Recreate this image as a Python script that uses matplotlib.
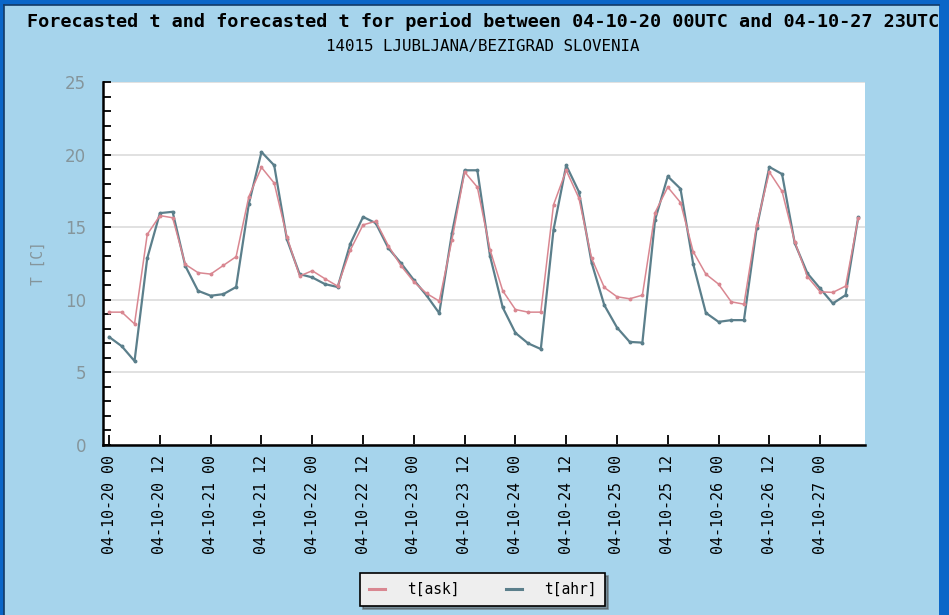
import numpy as np
import pandas as pd
import matplotlib
matplotlib.use("Agg")
import matplotlib.pyplot as plt
import matplotlib.dates as mdates
from matplotlib.patches import Rectangle
from matplotlib.ticker import MultipleLocator

# ----------------------------------------
# forecast series, 3-hourly from 04-10-20 00UTC
# ----------------------------------------
times = pd.date_range("2004-10-20 00:00", periods=60, freq="3h")

t_ask = [9.15, 9.15, 8.34, 14.5, 15.8, 15.65, 12.44, 11.87, 11.77, 12.37,
         12.97, 17.1, 19.12, 18.04, 14.35, 11.64, 12.0, 11.45, 10.94, 13.43,
         15.16, 15.41, 13.71, 12.33, 11.24, 10.44, 9.91, 14.12, 18.8, 17.76,
         13.45, 10.62, 9.33, 9.15, 9.15, 16.54, 18.92, 17.0, 12.86, 10.85,
         10.21, 10.07, 10.32, 16.01, 17.76, 16.7, 13.32, 11.77, 11.08, 9.86,
         9.7, 15.16, 18.8, 17.47, 14.0, 11.59, 10.55, 10.51, 10.94, 15.62]

t_ahr = [7.44, 6.8, 5.78, 12.86, 15.97, 16.06, 12.33, 10.62, 10.28, 10.39,
         10.88, 16.6, 20.18, 19.26, 14.17, 11.77, 11.54, 11.08, 10.88, 13.87,
         15.71, 15.28, 13.55, 12.51, 11.36, 10.3, 9.08, 14.59, 18.92, 18.92,
         13.02, 9.47, 7.72, 7.0, 6.61, 14.82, 19.26, 17.44, 12.56, 9.63,
         8.09, 7.1, 7.05, 15.51, 18.5, 17.65, 12.47, 9.1, 8.48, 8.6,
         8.6, 14.93, 19.15, 18.66, 13.9, 11.82, 10.78, 9.75, 10.32, 15.69]

series_names = ["t[ask]", "t[ahr]"]
series_colors = ["#d98791", "#5b7f8b"]

title = "Forecasted t and forecasted t for period between 04-10-20 00UTC and 04-10-27 23UTC"
subtitle = "14015 LJUBLJANA/BEZIGRAD SLOVENIA"

# ----------------------------------------
# figure
# ----------------------------------------
bg = "#a6d4ec"
fig = plt.figure(figsize=(9.49, 6.15), dpi=100)
fig.patch.set_facecolor(bg)

# dark blue frame round the page
frame = "#0a66c8"
for x0, y0, w, h in [(0, 1 - 5 / 615, 1, 5 / 615),
                     (0, 0, 4 / 949, 1),
                     (1 - 10 / 949, 0, 10 / 949, 1)]:
    fig.patches.append(Rectangle((x0, y0), w, h, transform=fig.transFigure,
                                 facecolor=frame, edgecolor="none", zorder=0))
fig.add_artist(plt.Line2D([4 / 949, 1 - 10 / 949], [1 - 5 / 615, 1 - 5 / 615],
                          color="#123a66", lw=1.2, transform=fig.transFigure))
fig.add_artist(plt.Line2D([4 / 949, 4 / 949], [0, 1 - 5 / 615],
                          color="#123a66", lw=1.2, transform=fig.transFigure))

ax = fig.add_axes([103 / 949, 1 - 445 / 615, 762 / 949, 363 / 615])
ax.set_facecolor("white")

for vals, name, col, lw in zip([t_ask, t_ahr], series_names, series_colors, [1.1, 1.6]):
    ax.plot(times, vals, color=col, lw=lw, marker="o", markersize=1.8,
            label=name, zorder=3 if name == "t[ask]" else 2)

ax.set_ylim(0, 25)
ax.set_xlim(times[0] - pd.Timedelta(hours=1.45), times[-1] + pd.Timedelta(hours=1.6))

ax.yaxis.set_major_locator(MultipleLocator(5))
ax.yaxis.set_minor_locator(MultipleLocator(1))
ax.grid(axis="y", which="major", color="#dcdcdc", lw=1.2, zorder=0)

ax.xaxis.set_major_locator(mdates.HourLocator(byhour=[0, 12]))
ax.xaxis.set_major_formatter(mdates.DateFormatter("%y-%m-%d %H"))
ax.tick_params(axis="x", which="major", direction="in", length=7, width=1.3,
               labelrotation=90, labelsize=10.8, pad=7, labelcolor="black")
ax.tick_params(axis="y", which="both", direction="in", length=6, width=1.3,
               labelsize=12, labelcolor="#85959b", pad=12)
for lab in ax.get_xticklabels():
    lab.set_family("DejaVu Sans Mono")

for side in ["top", "right"]:
    ax.spines[side].set_visible(False)
ax.spines["left"].set_linewidth(1.8)
ax.spines["bottom"].set_linewidth(1.8)

ax.set_ylabel("T [C]", color="#85959b", fontsize=10.5, family="DejaVu Sans Mono", labelpad=14)

fig.text(0.509, 1 - 22 / 615, title, ha="center", va="center", fontsize=13.3,
         fontweight="bold", family="DejaVu Sans Mono")
fig.text(0.509, 1 - 46 / 615, subtitle, ha="center", va="center", fontsize=11.4,
         family="DejaVu Sans Mono")

leg = fig.legend(loc="center", bbox_to_anchor=(482.5 / 949, 1 - 589.5 / 615),
                 ncol=2, frameon=True, fancybox=False, shadow=True,
                 handlelength=1.1, columnspacing=3.2, handletextpad=1.5,
                 prop={"family": "DejaVu Sans Mono", "size": 10.5}, borderpad=0.6)
leg.get_frame().set_facecolor("#eeeeee")
leg.get_frame().set_edgecolor("black")
leg.get_frame().set_linewidth(1.2)
for h in leg.legend_handles:
    h.set_marker("")
    h.set_linewidth(2.2)

fig.savefig("out.png", dpi=100, facecolor=fig.get_facecolor())
